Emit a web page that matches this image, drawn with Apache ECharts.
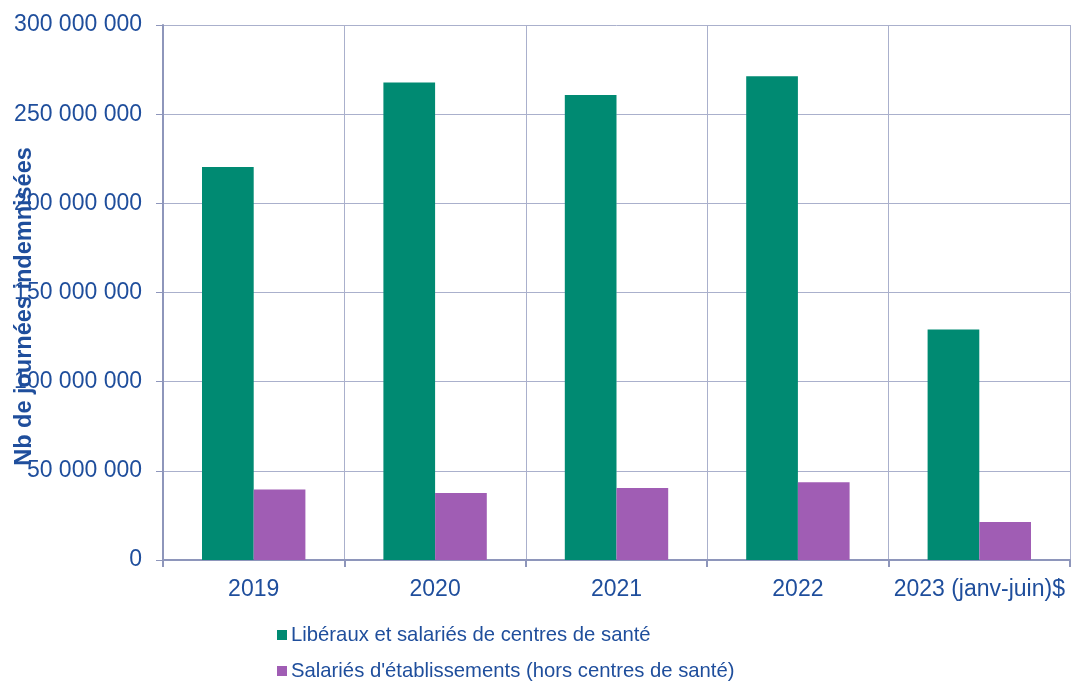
<!DOCTYPE html>
<html>
<head>
<meta charset="utf-8">
<script src="https://cdn.jsdelivr.net/npm/echarts@6/dist/echarts.min.js"></script>
<style>
  html, body { margin: 0; padding: 0; background: #fff; }
  #main { width: 1073px; height: 683px; }
</style>
</head>
<body>
<div id="main"></div>
<script>
const categories = ['2019', '2020', '2021', '2022', '2023 (janv-juin)$'];
const liberaux = [220400000, 267700000, 260800000, 271300000, 129200000];
const salaries = [39500000, 37600000, 40400000, 43600000, 21300000];
const seriesNames = ['Libéraux et salariés de centres de santé', "Salariés d'établissements (hors centres de santé)"];

const textColor = '#1f4e9c';
const axisColor = '#8e96bb';
const gridColor = '#aab0cc';

function fmt(v) {
    return String(v).replace(/\B(?=(\d{3})+(?!\d))/g, ' ');
}

function legendRow(name, top) {
    return {
        left: 272,
        top: top,
        itemWidth: 10,
        itemHeight: 10,
        icon: 'rect',
        textStyle: { color: textColor, fontSize: 20.3, padding: [0, 0, 0, -1] },
        data: [name]
    };
}

const chart = echarts.init(document.getElementById('main'));
chart.setOption({
    animation: false,
    textStyle: { fontFamily: 'Liberation Sans, Arial, sans-serif' },
    grid: { left: 163, right: 3, top: 25, bottom: 123, containLabel: false, outerBoundsMode: 'none' },
    legend: [legendRow(seriesNames[0], 620), legendRow(seriesNames[1], 656)],
    xAxis: {
        type: 'category',
        data: categories,
        axisLine: { lineStyle: { color: axisColor, width: 2 } },
        axisTick: { show: true, length: 7, lineStyle: { color: axisColor, width: 2 } },
        axisLabel: { color: textColor, fontSize: 23, margin: 18, interval: 0 },
        splitLine: { show: true, lineStyle: { color: gridColor, width: 1 } }
    },
    yAxis: {
        type: 'value',
        min: 0,
        max: 300000000,
        interval: 50000000,
        name: 'Nb de journées indemnisées',
        nameLocation: 'middle',
        nameRotate: 90,
        nameGap: 126,
        nameMoveOverlap: false,
        nameTextStyle: { color: textColor, fontSize: 23.5, fontWeight: 'bold', padding: [0, 0, 0, -28] },
        axisLine: { show: true, lineStyle: { color: axisColor, width: 2 } },
        axisTick: { show: true, length: 7, lineStyle: { color: axisColor, width: 1 } },
        axisLabel: { color: textColor, fontSize: 23, margin: 21, formatter: fmt },
        splitLine: { show: true, lineStyle: { color: gridColor, width: 1 } }
    },
    series: [
        {
            name: seriesNames[0],
            type: 'bar',
            data: liberaux,
            barGap: '0%',
            barCategoryGap: '43%',
            itemStyle: { color: '#008a72' }
        },
        {
            name: seriesNames[1],
            type: 'bar',
            data: salaries,
            itemStyle: { color: '#a05db4' }
        }
    ]
});
</script>
</body>
</html>
